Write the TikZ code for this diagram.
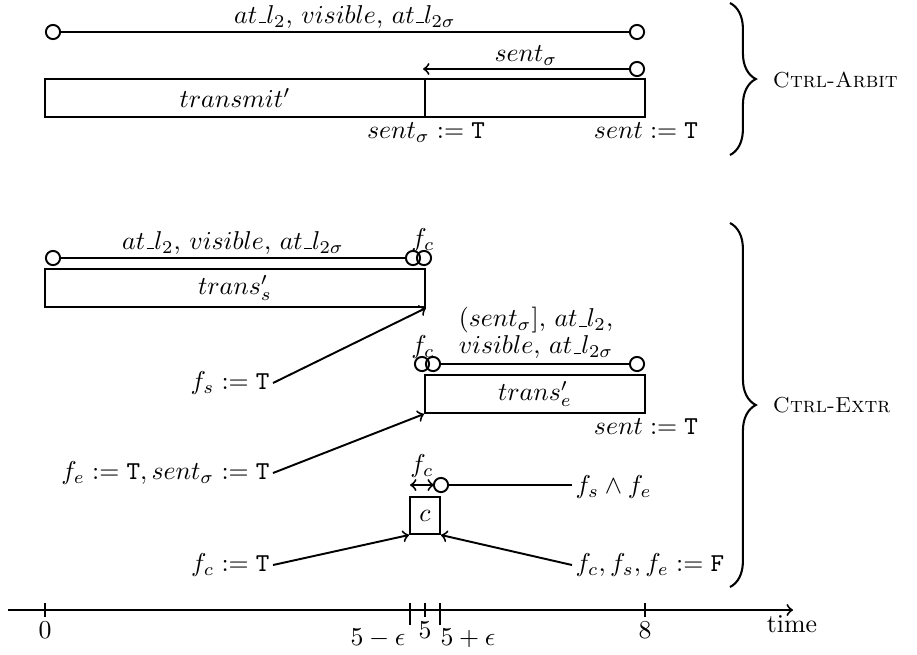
\documentclass[tikz,border=0pt]{standalone}
\usetikzlibrary{decorations.pathreplacing,fit}
\newcommand\usc{\kern.06em\vbox{\hrule width.3em}}
\begin{document}
\begin{tikzpicture}[x=0.3876pt,y=-0.3876pt, line width=0.75pt,
  dot/.style={circle,draw,inner sep=0pt,minimum size=5.5pt},
  bar/.style={draw,inner sep=0pt},
  lbl/.style={inner sep=1pt},
  ctrl/.style={anchor=west,inner sep=0pt,font=\fontsize{8.4}{10}\selectfont},
  cbrace/.style={decorate,decoration={brace,amplitude=10pt},line width=0.8pt}]
\useasboundingbox (0,0) rectangle (917,654);
% ---------------- Ctrl-Arbit
\node[dot] (a1) at (53,32) {};
\node[dot] (a2) at (637,32) {};
\draw (a1) -- node[above,lbl] {$at\usc l_2$, $visible$, $at\usc l_{2\sigma}$} (a2);
\node[dot] (b2) at (637,69) {};
\coordinate (b1) at (423,69);
\draw[->] (b2) -- node[above,lbl] {$sent_\sigma$} (b1);
\node[bar,fit={(45,79) (425,117)}] (bx1) {};
\node[bar,fit={(425,79) (645,117)}] (bx2) {};
\node (t1) at (bx1.center) {$transmit'$};
\node[below,inner sep=1.5pt] (s1) at (bx1.south east) {$sent_\sigma := \mathtt{T}$};
\node[below,inner sep=1.5pt] (s2) at (bx2.south east) {$sent := \mathtt{T}$};
\draw[cbrace] (730,3) -- (730,155);
\node[ctrl] (ca) at (772,80) {\textsc{Ctrl-Arbit}};
% ---------------- Ctrl-Extr
\node[dot] (c1) at (53,258) {};
\node[dot] (c2) at (413,258) {};
\node[dot] (c3) at (424,258) {};
\draw (c1) -- node[above,lbl] {$at\usc l_2$, $visible$, $at\usc l_{2\sigma}$} (c2);
\node (fc1) at (423,240) {$f_c$};
\node[bar,fit={(45,269) (425,307)}] (bxs) {};
\node (ts) at (bxs.center) {$trans'_s$};
\node[anchor=east,inner sep=1pt] (fs) at (273,383) {$f_s := \mathtt{T}$};
\draw[->] (fs.east) -- (bxs.south east);

\node[dot] (d1) at (422,364) {};
\node[dot] (d2) at (433,364) {};
\node[dot] (d3) at (637,364) {};
\draw (d2) -- (d3);
\node (fc2) at (423,347) {$f_c$};
\node[align=center,inner sep=0pt] (lab2) at (536,333) {$(sent_\sigma]$, $at\usc l_2$,\\[-1.5pt] $visible$, $at\usc l_{2\sigma}$};
\node[bar,fit={(425,375) (645,413)}] (bxe) {};
\node (te) at (bxe.center) {$trans'_e$};
\node[below,inner sep=1.5pt] (s3) at (bxe.south east) {$sent := \mathtt{T}$};
\node[anchor=east,inner sep=1pt] (fe) at (273,473) {$f_e := \mathtt{T}, sent_\sigma := \mathtt{T}$};
\draw[->] (fe.east) -- (bxe.south west);

\node (fc3) at (422,466) {$f_c$};
\coordinate (h1) at (410,485);
\coordinate (h2) at (434,485);
\draw[<->] (h1) -- (h2);
\node[dot] (e1) at (441,485) {};
\node[anchor=west,inner sep=1pt] (fse) at (572,487) {$f_s \wedge f_e$};
\draw (e1) -- (e1 -| fse.west);
\node[bar,fit={(410,497) (440,534)}] (bc) {};
\node (tc) at (bc.center) {$c$};
\node[anchor=east,inner sep=1pt] (fcT) at (273,565) {$f_c := \mathtt{T}$};
\draw[->] (fcT.east) -- (bc.south west);
\node[anchor=west,inner sep=1pt] (fF) at (572,565) {$f_c, f_s, f_e := \mathtt{F}$};
\draw[->] (fF.west) -- (bc.south east);
\draw[cbrace] (730,223) -- (730,587);
\node[ctrl] (ce) at (772,405) {\textsc{Ctrl-Extr}};
% ---------------- time axis
\coordinate (ax0) at (8,610);
\coordinate (ax1) at (793,610);
\draw[->] (ax0) -- (ax1);
\node (time) at (792,624) {time};
\foreach \x/\b in {45/617,410/625,425/617,440/625,645/617}
  \draw (\x,603) -- (\x,\b);
\node (l0) at (45,630) {$0$};
\node (l1) at (378,638) {$5-\epsilon$};
\node (l2) at (425,630) {$5$};
\node (l3) at (468,638) {$5+\epsilon$};
\node (l4) at (645,630) {$8$};
\end{tikzpicture}
\end{document}
